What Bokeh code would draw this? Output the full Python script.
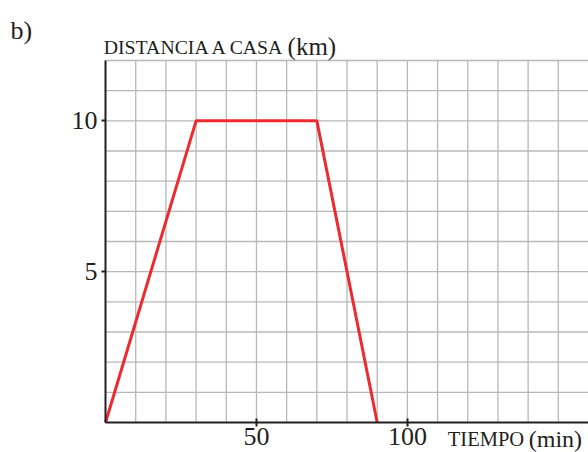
from bokeh.plotting import figure
from bokeh.models import Range1d, FixedTicker, Label, LinearAxis
from bokeh.embed import file_html
from bokeh.resources import INLINE

# data
tiempo = [0, 30, 70, 90]          # min
distancia = [0, 10, 10, 0]        # km
x_ticks = [50, 100]
y_ticks = [5, 10]
x_grid = list(range(10, 151, 10))
y_grid = list(range(1, 13, 1))
x_max = 160
y_max = 12

TXT = "#231f20"
FONT = "Liberation Serif"

p = figure(width=588, height=452, output_backend="svg", toolbar_location=None,
           x_range=Range1d(-34.8, 160), y_range=Range1d(-0.994, 13.989),
           x_axis_location=None, y_axis_location=None, min_border=0)
p.outline_line_color = None
p.background_fill_color = "white"
p.border_fill_color = "white"
p.xgrid.visible = False
p.ygrid.visible = False

# grid drawn only inside the 0..160 x 0..12 region
GRID = "#b8b8ba"
p.segment(x0=x_grid, y0=[0] * len(x_grid), x1=x_grid, y1=[y_max] * len(x_grid),
          line_color=GRID, line_width=1.3)
p.segment(x0=[0] * len(y_grid), y0=y_grid, x1=[x_max] * len(y_grid), y1=y_grid,
          line_color=GRID, line_width=1.3)

xa = LinearAxis(fixed_location=0, bounds=(0, 160))
ya = LinearAxis(fixed_location=0, bounds=(0, 12))
p.add_layout(xa, "below")
p.add_layout(ya, "left")

for ax, ticks in ((xa, x_ticks), (ya, y_ticks)):
    ax.ticker = FixedTicker(ticks=ticks)
    ax.axis_line_color = TXT
    ax.axis_line_width = 2
    ax.major_tick_line_color = TXT
    ax.major_tick_line_width = 2
    ax.minor_tick_line_color = None
    ax.major_label_text_font = FONT
    ax.major_label_text_font_size = "26px"
    ax.major_label_text_color = TXT
    ax.level = "overlay"

xa.major_tick_in = 4
xa.major_tick_out = 4
xa.major_label_standoff = 1
ya.major_tick_in = 0
ya.major_tick_out = 4
ya.major_label_standoff = 4

p.line(tiempo, distancia, line_color="#ee2a2f", line_width=3)

def lab(x, y, t, size):
    p.add_layout(Label(x=x, y=y, text=t, text_font=FONT, text_font_size=size,
                       text_color=TXT, text_baseline="alphabetic", text_align="left"))

lab(-31.5, 12.994, "b)", "26px")
lab(-0.6, 12.454, "DISTANCIA A CASA", "19.8px")
lab(60.3, 12.454, "(km)", "25px")
lab(113.4, -0.54, "TIEMPO", "20.5px")
lab(140.2, -0.54, "(min)", "24px")

open("out.html", "w").write(file_html(p, INLINE))
